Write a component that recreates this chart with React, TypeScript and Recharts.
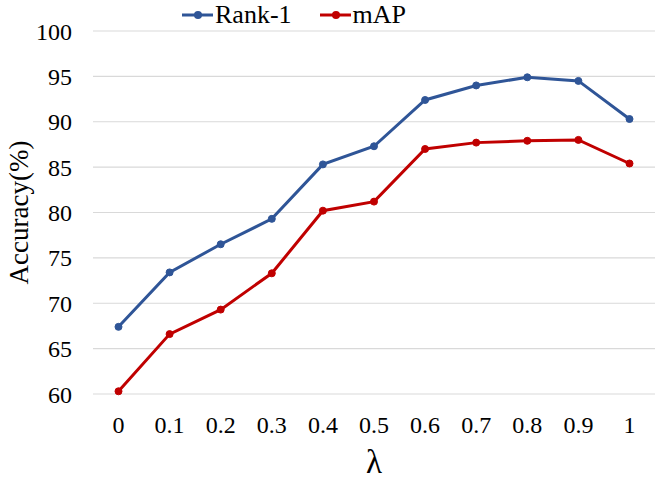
import React from "react"
import { CartesianGrid, Legend, Line, LineChart, XAxis, YAxis } from "recharts"

const lambdas = ["0", "0.1", "0.2", "0.3", "0.4", "0.5", "0.6", "0.7", "0.8", "0.9", "1"]
const rank1 = [67.4, 73.4, 76.5, 79.3, 85.3, 87.3, 92.4, 94.0, 94.9, 94.5, 90.3]
const mAP = [60.3, 66.6, 69.3, 73.3, 80.2, 81.2, 87.0, 87.7, 87.9, 88.0, 85.4]
const yTicks = [60, 65, 70, 75, 80, 85, 90, 95, 100]

const BLUE = "#2f5597"
const RED = "#c00000"
const FONT = "Liberation Serif"

const data = lambdas.map((l, i) => ({ l, rank1: rank1[i], mAP: mAP[i] }))

const legendItems = [
   { name: "Rank-1", color: BLUE },
   { name: "mAP", color: RED },
]

const LegendContent = () => (
   <div
      style={{
         display: "flex",
         alignItems: "center",
         height: 30,
         lineHeight: "30px",
         paddingLeft: 182,
         fontFamily: FONT,
         fontSize: 26,
         color: "#000",
      }}
   >
      {legendItems.map((it) => (
         <div key={it.name} style={{ display: "flex", alignItems: "center", marginRight: 28 }}>
            <svg width={31} height={12} style={{ marginRight: 2 }}>
               <line x1={0} y1={6} x2={31} y2={6} stroke={it.color} strokeWidth={3} />
               <circle cx={16} cy={6} r={4} fill={it.color} />
            </svg>
            <span>{it.name}</span>
         </div>
      ))}
   </div>
)

const YLabel = ({ viewBox }: any) => {
   const cy = viewBox.y + viewBox.height / 2
   return (
      <text
         x={28}
         y={cy}
         transform={`rotate(-90 28 ${cy})`}
         textAnchor="middle"
         fontFamily={FONT}
         fontSize={27}
         fill="#000"
      >
         Accuracy(%)
      </text>
   )
}

export default function App() {
   return (
      <div style={{ position: "absolute", left: 0, top: 0, background: "#fff", fontFamily: FONT }}>
         <LineChart
            width={664}
            height={479}
            data={data}
            margin={{ top: 1, right: 9, bottom: 0, left: 0 }}
            style={{ fontFamily: FONT }}
         >
            <CartesianGrid vertical={false} stroke="#d9d9d9" strokeWidth={1.2} />
            <XAxis
               dataKey="l"
               axisLine={false}
               tickLine={false}
               tickSize={0}
               tickMargin={22}
               height={85}
               interval={0}
               padding={{ left: 25.5, right: 25.5 }}
               tick={{ fontFamily: FONT, fontSize: 24, fill: "#000" }}
               label={{
                  value: "λ",
                  position: "insideBottom",
                  offset: 6,
                  fontFamily: FONT,
                  fontSize: 33,
                  fill: "#000",
               }}
            />
            <YAxis
               domain={[60, 100]}
               ticks={yTicks}
               axisLine={false}
               tickLine={false}
               tickSize={0}
               tickMargin={21}
               width={93}
               tick={{ fontFamily: FONT, fontSize: 24, fill: "#000" }}
               label={<YLabel />}
            />
            <Legend
               verticalAlign="top"
               align="left"
               content={<LegendContent />}
               wrapperStyle={{ top: 0, left: 0, width: 664 }}
            />
            <Line
               dataKey="rank1"
               name="Rank-1"
               stroke={BLUE}
               strokeWidth={3}
               dot={{ r: 3.5, fill: BLUE, stroke: BLUE, strokeWidth: 1 }}
               isAnimationActive={false}
            />
            <Line
               dataKey="mAP"
               name="mAP"
               stroke={RED}
               strokeWidth={3}
               dot={{ r: 3.5, fill: RED, stroke: RED, strokeWidth: 1 }}
               isAnimationActive={false}
            />
         </LineChart>
      </div>
   )
}
